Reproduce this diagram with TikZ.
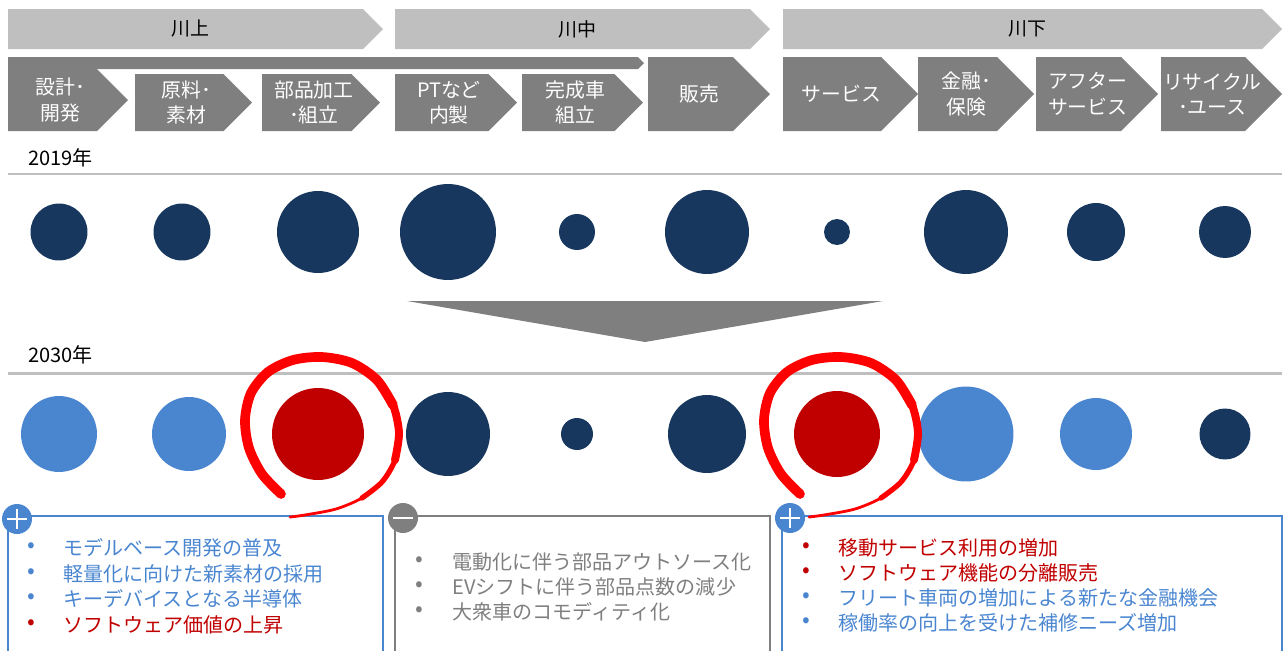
\documentclass[tikz,border=0pt]{standalone}
\usepackage{fontspec}
\setmainfont{Noto Sans CJK JP}
\usepackage{tikz}
\usetikzlibrary{calc}

\definecolor{navy}{HTML}{17375E}
\definecolor{paleblue}{HTML}{4A86D0}
\definecolor{valred}{HTML}{C00000}
\definecolor{inkred}{HTML}{FF0000}
\definecolor{bandgray}{HTML}{BFBFBF}
\definecolor{stepgray}{HTML}{7F7F7F}

\tikzset{
  band/.style={fill=bandgray},
  stage/.style={fill=stepgray},
  bandtext/.style={font=\fontsize{10.8}{13}\selectfont,text=black,inner sep=0pt},
  stagetext/.style={font=\fontsize{11.3}{14.5}\selectfont,text=white,align=center,inner sep=0pt},
  yearlabel/.style={font=\fontsize{11.4}{13}\selectfont,anchor=west,inner sep=0pt},
  sepline/.style={draw=bandgray,line width=1.7pt},
  dot/.style={circle,inner sep=0pt,draw=none},
  ring/.style={draw=inkred,line cap=round,line join=round},
  item/.style={font=\fontsize{11.4}{14}\selectfont,anchor=west,inner sep=0pt},
  bullet/.style={font=\fontsize{13}{14}\selectfont,inner sep=0pt},
  plusbox/.style={draw=paleblue,line width=1.1pt},
  minusbox/.style={draw=stepgray,line width=1.1pt},
  badge/.style={circle,inner sep=0pt,minimum size=30*0.02cm},
  sign/.style={draw=white,line width=1.5pt}
}

% arrow-shaped step: style, name, left, tip, top, bottom, text
\newcommand{\chevshape}[7]{%
  \fill[#1] (#3,#5) -- ({#4-(#6-#5)/2},#5) -- (#4,{(#5+#6)/2})
    -- ({#4-(#6-#5)/2},#6) -- (#3,#6) -- cycle;
  \node[#1text] (#2) at ({(#3+#4-(#6-#5)/4)/2},{(#5+#6)/2}) {#7};}

\begin{document}
\begin{tikzpicture}[x=0.02cm,y=-0.02cm]
\useasboundingbox (0,0) rectangle (1286,650);
\clip (0,0) rectangle (1286,650);

% stream segments
\chevshape{band}{up}{8}{383}{9}{49}{川上}
\chevshape{band}{mid}{395}{770}{9}{49}{川中}
\chevshape{band}{down}{783}{1282}{9}{49}{川下}

% long bar over the upstream steps
\fill[stepgray] (8,57) -- (638,57) -- (644,63) -- (638,69) -- (8,69) -- cycle;

\chevshape{stage}{design}{8}{128}{69}{131}{設計･\\開発}
\chevshape{stage}{material}{135}{252}{74}{131}{原料･\\素材}
\chevshape{stage}{parts}{262}{380}{74}{131}{部品加工\\･組立}
\chevshape{stage}{inhouse}{395}{517}{74}{131}{PTなど\\内製}
\chevshape{stage}{assembly}{522}{643}{74}{131}{完成車\\組立}
\chevshape{stage}{sales}{648}{770}{57}{131}{販売}
\chevshape{stage}{service}{783}{918}{57}{131}{サービス}
\chevshape{stage}{finance}{918}{1034}{57}{131}{金融･\\保険}
\chevshape{stage}{after}{1036}{1158}{57}{131}{アフター\\サービス}
\chevshape{stage}{recycle}{1161}{1282}{57}{131}{リサイクル\\･ユース}

% 2019
\node[yearlabel] (y19) at (28,158) {2019年};
\draw[sepline] (8,174) -- (1282,174);
\foreach \x/\r [count=\i] in {59/28.5,182/28.5,318/41,448/48,577/18,707/42,837/13,966/42,1096/29,1225/26}
  \node[dot,fill=navy,minimum size=\r*0.04cm] (old\i) at (\x,232) {};

% shift arrow
\fill[stepgray] (407,301) -- (883,301) -- (645,342) -- cycle;

% 2030
\node[yearlabel] (y30) at (28,355) {2030年};
\draw[sepline] (8,373) -- (1282,373);
\foreach \x/\r/\c [count=\i] in {59/38/paleblue,189/37/paleblue,318/46/valred,448/42/navy,577/16/navy,707/39/navy,837/43/valred,966/47.5/paleblue,1096/36/paleblue,1225/25.5/navy}
  \node[dot,fill=\c,minimum size=\r*0.04cm] (new\i) at (\x,434) {};

% comment boxes
\draw[plusbox] (8,516) rectangle (383,700);
\draw[minusbox] (395,516) rectangle (770,700);
\draw[plusbox] (782,516) rectangle (1282,700);

\node[badge,fill=paleblue] (plusA) at (17,519) {};
\draw[sign] ($(plusA)+(-10,0)$) -- ($(plusA)+(10,0)$) ($(plusA)+(0,-10)$) -- ($(plusA)+(0,10)$);
\node[badge,fill=stepgray] (minus) at (403,518) {};
\draw[sign] ($(minus)+(-10,0)$) -- ($(minus)+(10,0)$);
\node[badge,fill=paleblue] (plusB) at (790,518) {};
\draw[sign] ($(plusB)+(-10,0)$) -- ($(plusB)+(10,0)$) ($(plusB)+(0,-10)$) -- ($(plusB)+(0,10)$);

\foreach \t/\c [count=\i] in {モデルベース開発の普及/paleblue,軽量化に向けた新素材の採用/paleblue,キーデバイスとなる半導体/paleblue,ソフトウェア価値の上昇/valred} {
  \node[bullet,text=\c] (ua\i) at (31,{548+25.5*(\i-1)}) {•};
  \node[item,text=\c] (ub\i) at (63,{548+25.5*(\i-1)}) {\t};
}
\foreach \t [count=\i] in {電動化に伴う部品アウトソース化,EVシフトに伴う部品点数の減少,大衆車のコモディティ化} {
  \node[bullet,text=stepgray] (ma\i) at (419,{562+25*(\i-1)}) {•};
  \node[item,text=stepgray] (mb\i) at (452,{562+25*(\i-1)}) {\t};
}
\foreach \t/\c [count=\i] in {移動サービス利用の増加/valred,ソフトウェア機能の分離販売/valred,フリート車両の増加による新たな金融機会/paleblue,稼働率の向上を受けた補修ニーズ増加/paleblue} {
  \node[bullet,text=\c] (da\i) at (806,{548+25*(\i-1)}) {•};
  \node[item,text=\c] (db\i) at (838,{548+25*(\i-1)}) {\t};
}

% hand-drawn rings around the growing segments, thinning towards the tail
\foreach \s in {0,519} {
\begin{scope}[xshift=\s*0.02cm]
  \draw[ring,line width=5.5pt] plot[smooth] coordinates {(281,494) (262,474) (249,448) (245,420) (251,393) (268,372) (293,360) (322,357) (352,363) (377,380) (393,405)};
  \draw[ring,line width=4.5pt] plot[smooth] coordinates {(377,380) (393,405) (399,433) (395,460)};
  \draw[ring,line width=3pt] plot[smooth] coordinates {(399,433) (395,460) (382,482) (362,498)};
  \draw[ring,line width=1.6pt] plot[smooth] coordinates {(382,482) (362,498) (336,509) (305,515) (290,517)};
\end{scope}
}
\end{tikzpicture}
\end{document}
